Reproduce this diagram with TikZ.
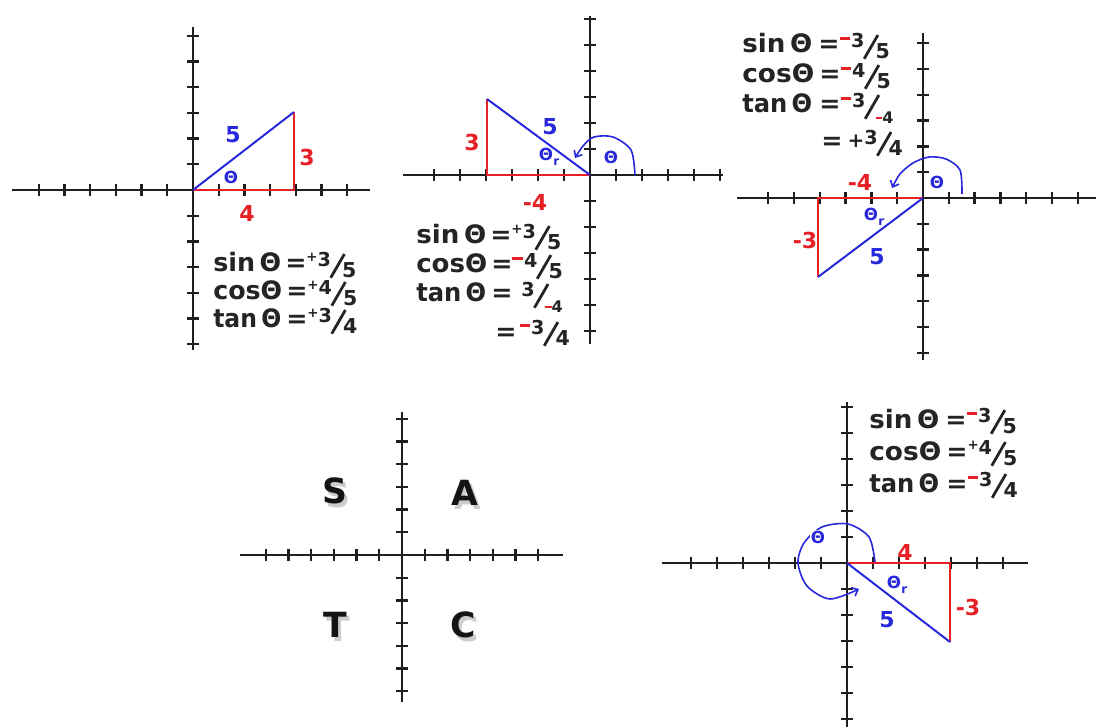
\documentclass[tikz,border=0pt]{standalone}
\usepackage{fontspec}
\usepackage{graphicx}
\setmainfont{DejaVu Sans}
\usetikzlibrary{arrows.meta}
\definecolor{myred}{RGB}{230,32,36}
\definecolor{myblue}{RGB}{40,40,220}
\definecolor{ink}{RGB}{36,36,36}
\newcommand{\pl}{\raisebox{0.42em}{\fontsize{10}{10}\selectfont +}}
\newcommand{\mi}{\textcolor{myred}{\rule[0.52em]{0.42em}{0.12em}}\kern0.04em}
\newcommand{\slsh}{\raisebox{-0.2em}{\rotatebox{-30}{\rule{0.11em}{1.08em}}}}
\newcommand{\fr}[2]{\raisebox{0.22em}{\fontsize{14.4}{15}\selectfont #1}\kern-0.06em\slsh\kern-0.14em\raisebox{-0.2em}{\fontsize{15.4}{16}\selectfont #2}}
\newcommand{\frn}[2]{\raisebox{0.22em}{\fontsize{14.4}{15}\selectfont #1}\kern-0.06em\slsh\kern-0.16em\raisebox{-0.42em}{\fontsize{12}{12}\selectfont\textcolor{myred}{\rule[0.3em]{0.4em}{0.12em}}#2}}
\newcommand{\thr}{Θ\kern0.02em\raisebox{-0.3em}{\fontsize{9}{9}\selectfont r}}
\newcommand{\shl}[1]{\makebox[0pt][l]{\kern2.2pt\raisebox{-3pt}{\textcolor{black!20}{#1}}}#1}
\newcommand{\lhs}[2]{\resizebox{#1\dimexpr0.75pt\relax}{\height}{#2}}
\newcommand{\axes}[9]{%
  \draw[axisl] (#1,0) -- (#2,0);
  \draw[axisl] (0,#3) -- (0,#4);
  \foreach \k in {1,...,#6} {\draw[tickl] ({-\k*#5},-6) -- ({-\k*#5},6);}
  \foreach \k in {1,...,#7} {\draw[tickl] ({\k*#5},-6) -- ({\k*#5},6);}
  \foreach \k in {1,...,#8} {\draw[tickl] (-6,{-\k*#5}) -- (6,{-\k*#5});}
  \foreach \k in {1,...,#9} {\draw[tickl] (-6,{\k*#5}) -- (6,{\k*#5});}
}
\tikzset{
  axisl/.style={line width=2.1pt, draw=black!88},
  tickl/.style={line width=1.7pt, draw=black!88},
  redl/.style={draw=myred, line width=1.7pt},
  bluel/.style={draw=myblue, line width=1.5pt},
  arcl/.style={draw=myblue, line width=1.2pt, -{Straight Barb[length=4pt,width=7pt]}},
  eq/.style={anchor=base west, inner sep=0pt, text=ink, font=\bfseries\fontsize{19}{20}\selectfont},
  numr/.style={inner sep=0pt, text=myred, font=\bfseries\fontsize{16.5}{17}\selectfont},
  numb/.style={inner sep=0pt, text=myblue, font=\bfseries\fontsize{16.5}{17}\selectfont},
  thl/.style={inner sep=0.5pt, text=myblue, font=\bfseries\fontsize{12.5}{13}\selectfont},
  big/.style={inner sep=0pt, text=black!92, font=\bfseries\fontsize{26}{27}\selectfont}
}
\begin{document}
\begin{tikzpicture}[x=0.75pt,y=-0.75pt]
\useasboundingbox (0,0) rectangle (1096,727);
\fill[white] (0,0) rectangle (1096,727);

% ---------- axes ----------
\begin{scope}[shift={(193,190)}]
  \axes{-181}{177}{-163}{160}{25.7}{6}{6}{6}{6}
\end{scope}
\begin{scope}[shift={(590,175)}]
  \axes{-187}{133}{-159}{169}{26}{6}{5}{6}{6}
\end{scope}
\begin{scope}[shift={(923,198)}]
  \axes{-186}{173}{-165}{162}{25.8}{6}{6}{6}{6}
\end{scope}
\begin{scope}[shift={(402,555)}]
  \axes{-162}{161}{-143}{147}{22.7}{6}{6}{6}{6}
\end{scope}
\begin{scope}[shift={(847,563)}]
  \axes{-185}{181}{-161}{164}{26}{6}{6}{6}{6}
\end{scope}

% ---------- panel 1 ----------
\coordinate (o1) at (193,190);
\coordinate (a1) at (294,190);
\coordinate (b1) at (294,112);
\draw[redl] (o1) -- (a1) -- (b1);
\draw[bluel] (o1) -- (b1);
\node[numb] (l1h) at (233,135) {5};
\node[numr] (l1v) at (307,157) {3};
\node[numr] (l1x) at (247,213) {4};
\node[thl] (l1t) at (231,177) {Θ};
\node[eq] (e1s) at (213,272) {\lhs{68}{sin\hspace{0.18em}Θ}};
\node[eq] (e1sr) at (285,272) {=\pl\fr{3}{5}};
\node[eq] (e1c) at (213,300) {\lhs{69}{cosΘ}};
\node[eq] (e1cr) at (286,300) {=\pl\fr{4}{5}};
\node[eq] (e1t) at (213,328) {\lhs{68}{tan\hspace{0.18em}Θ}};
\node[eq] (e1tr) at (286,328) {=\pl\fr{3}{4}};

% ---------- panel 2 ----------
\coordinate (o2) at (590,175);
\coordinate (a2) at (487,175);
\coordinate (b2) at (487,99);
\draw[redl] (o2) -- (a2) -- (b2);
\draw[bluel] (o2) -- (b2);
\draw[arcl] plot[smooth] coordinates {(635,175) (631,150) (613,137) (594,137) (583,146) (575,158)};
\node[numr] (l2v) at (472,142) {3};
\node[numb] (l2h) at (550,127) {5};
\node[thl] (l2r) at (549,157) {\thr};
\node[thl] (l2t) at (611,157) {Θ};
\node[numr] (l2x) at (535,202) {-4};
\node[eq] (e2s) at (416,244) {\lhs{70}{sin\hspace{0.18em}Θ}};
\node[eq] (e2sr) at (490,244) {=\pl\fr{3}{5}};
\node[eq] (e2c) at (416,273) {\lhs{71}{cosΘ}};
\node[eq] (e2cr) at (491,273) {=\mi\fr{4}{5}};
\node[eq] (e2t) at (416,302) {\lhs{70}{tan\hspace{0.18em}Θ}};
\node[eq] (e2tr) at (491,302) {=\hspace{0.35em}\frn{3}{4}};
\node[eq] (e2l) at (495,340) {=\kern0.12em\mi\fr{3}{4}};

% ---------- panel 3 ----------
\coordinate (o3) at (923,198);
\coordinate (a3) at (818,198);
\coordinate (b3) at (818,277);
\draw[redl] (o3) -- (a3) -- (b3);
\draw[bluel] (o3) -- (b3);
\draw[arcl] plot[smooth] coordinates {(962,194) (960,170) (946,159) (929,157) (913,163) (900,174) (892,188)};
\node[numr] (l3x) at (860,182) {-4};
\node[thl] (l3t) at (937,182) {Θ};
\node[thl] (l3r) at (874,217) {\thr};
\node[numr] (l3v) at (805,240) {-3};
\node[numb] (l3h) at (877,257) {5};
\node[eq] (e3s) at (742,53) {\lhs{70}{sin\hspace{0.18em}Θ}};
\node[eq] (e3sr) at (818,53) {=\mi\fr{3}{5}};
\node[eq] (e3c) at (742,83) {\lhs{72}{cosΘ}};
\node[eq] (e3cr) at (819,83) {=\mi\fr{4}{5}};
\node[eq] (e3t) at (742,113) {\lhs{70}{tan\hspace{0.18em}Θ}};
\node[eq] (e3tr) at (819,113) {=\mi\frn{3}{4}};
\node[eq] (e3l) at (821,150) {=\hspace{0.2em}\raisebox{0.08em}{\fontsize{15}{15}\selectfont +}\fr{3}{4}};

% ---------- panel 4 (SATC) ----------
\node[big] (S) at (335,493) {\shl{S}};
\node[big] (A) at (465,495) {\shl{A}};
\node[big] (T) at (335,627) {\shl{T}};
\node[big] (C) at (463,627) {\shl{C}};

% ---------- panel 5 ----------
\coordinate (o5) at (847,563);
\coordinate (a5) at (950,563);
\coordinate (b5) at (950,642);
\draw[redl] (o5) -- (a5) -- (b5);
\draw[bluel] (o5) -- (b5);
\draw[arcl] plot[smooth] coordinates {(875,562) (869,537) (848,524) (822,527) (804,543) (798,563) (807,586) (830,599) (859,589)};
\node[numr] (l5x) at (905,552) {4};
\node[thl] (l5r) at (897,585) {\thr};
\node[numb] (l5h) at (887,620) {5};
\node[numr] (l5v) at (968,607) {-3};
\node[thl, fill=white] (l5t) at (818,537) {Θ};
\node[eq] (e5s) at (869,428) {\lhs{70}{sin\hspace{0.18em}Θ}};
\node[eq] (e5sr) at (945,428) {=\mi\fr{3}{5}};
\node[eq] (e5c) at (869,460) {\lhs{72}{cosΘ}};
\node[eq] (e5cr) at (946,460) {=\pl\fr{4}{5}};
\node[eq] (e5t) at (869,492) {\lhs{70}{tan\hspace{0.18em}Θ}};
\node[eq] (e5tr) at (946,492) {=\mi\fr{3}{4}};
\end{tikzpicture}
\end{document}
